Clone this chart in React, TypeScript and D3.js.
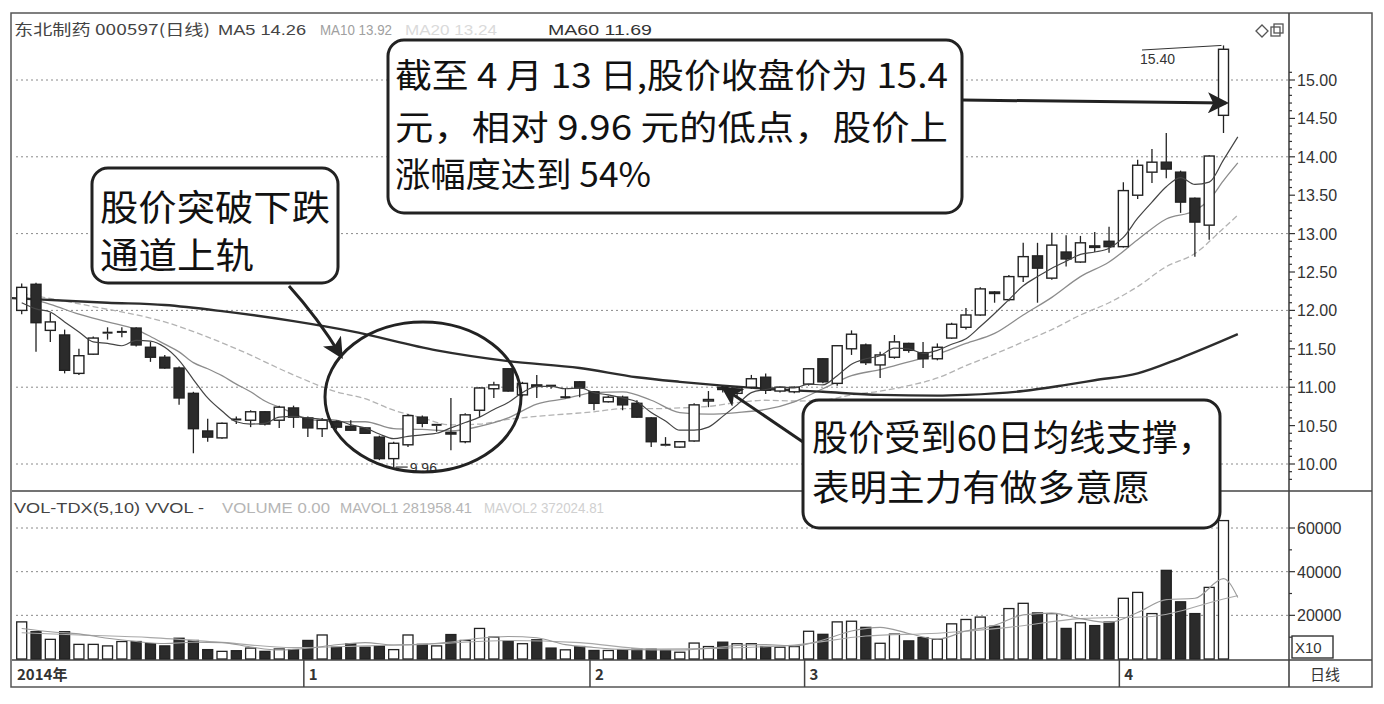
import React from "react";
import * as d3 from "d3";

const W = 1384;
const H = 704;

// ---- Candles (index 0..84), price in 元 ----
const opens = [12.00,12.34,11.74,11.68,11.18,11.43,11.70,11.71,11.77,11.52,11.39,11.25,10.92,10.43,10.34,10.58,10.57,10.68,10.57,10.73,10.60,10.46,10.55,10.49,10.47,10.35,10.07,10.25,10.61,10.50,10.41,10.29,10.70,10.98,11.24,10.90,11.03,11.02,10.86,11.07,10.94,10.81,10.87,10.79,10.60,10.25,10.22,10.30,10.82,11.00,10.92,11.00,11.13,10.95,10.94,11.04,11.37,11.05,11.50,11.55,11.29,11.39,11.57,11.45,11.37,11.64,11.78,11.94,12.24,12.14,12.44,12.71,12.42,12.76,12.63,12.84,12.90,12.83,13.50,13.80,13.93,13.80,13.46,13.11,14.54];
const highs = [12.35,12.36,11.97,11.75,11.50,11.66,11.78,11.78,11.78,11.59,11.42,11.27,10.94,10.59,10.54,10.62,10.70,10.69,10.76,10.76,10.62,10.60,10.57,10.57,10.48,10.37,10.29,10.65,10.63,10.52,10.86,10.66,11.00,11.07,11.25,11.07,11.16,11.03,10.99,11.08,10.95,10.89,10.89,10.83,10.61,10.35,10.30,10.79,10.95,11.02,11.01,11.16,11.18,11.01,11.01,11.25,11.38,11.55,11.74,11.57,11.46,11.68,11.58,11.59,11.57,11.84,12.03,12.30,12.25,12.46,12.88,12.88,13.01,12.98,12.97,13.02,13.09,13.67,13.96,14.10,14.31,13.82,13.47,14.02,15.45];
const lows = [11.95,11.46,11.59,11.18,11.16,11.42,11.62,11.65,11.53,11.33,11.24,10.77,10.14,10.29,10.33,10.52,10.48,10.50,10.47,10.47,10.35,10.35,10.45,10.43,10.39,10.05,9.96,10.22,10.48,10.42,10.18,10.27,10.61,10.86,10.94,10.88,10.86,10.98,10.86,10.87,10.70,10.80,10.70,10.60,10.22,10.23,10.21,10.29,10.74,10.93,10.87,10.98,10.91,10.93,10.92,11.02,11.05,11.02,11.42,11.29,11.12,11.37,11.45,11.25,11.35,11.63,11.75,11.93,12.10,12.12,12.37,12.10,12.40,12.57,12.62,12.76,12.75,12.82,13.45,13.66,13.72,13.27,12.70,12.92,14.31];
const closes = [12.30,11.84,11.85,11.22,11.41,11.64,11.71,11.72,11.55,11.39,11.25,10.86,10.46,10.35,10.53,10.57,10.68,10.52,10.74,10.61,10.47,10.57,10.48,10.44,10.40,10.07,10.27,10.63,10.53,10.51,10.39,10.64,10.99,11.03,10.95,11.05,11.01,11.01,10.87,10.99,10.79,10.87,10.77,10.61,10.29,10.24,10.29,10.77,10.84,10.97,10.99,11.11,10.96,11.00,11.00,11.24,11.07,11.54,11.69,11.32,11.42,11.59,11.48,11.37,11.52,11.82,11.94,12.28,12.22,12.44,12.70,12.55,12.85,12.67,12.88,12.82,12.83,13.56,13.89,13.93,13.84,13.41,13.15,14.01,15.40];

// ---- Volume (axis units, x10 手) ----
const volumes = [17000,12500,9000,12500,6700,6700,6000,8000,8000,7000,6000,9500,8500,4300,3500,3800,5000,3500,4600,4300,8500,11000,5400,7000,5400,6000,4300,11000,6700,6000,11200,8500,14000,10000,8200,7000,8800,5000,4200,5700,3900,3900,4200,4500,4500,3900,3100,7300,5700,7700,7000,7000,5700,5400,5700,12700,11300,17000,17300,14500,7200,11400,8300,9800,9000,16100,18100,19200,15000,23100,25500,21100,20800,14000,16600,15300,16900,27800,30500,20800,40600,26200,20800,32800,63400];

// ---- Moving averages: [index, value] ----
const ma5Pts: [number, number][] = [[0,12.10],[1,12.02],[2,11.98],[3,11.85],[4,11.72],[5,11.59],[6,11.57],[7,11.54],[8,11.61],[9,11.60],[10,11.52],[11,11.35],[12,11.10],[13,10.86],[14,10.69],[15,10.55],[16,10.52],[17,10.53],[18,10.61],[19,10.62],[20,10.60],[21,10.58],[22,10.57],[23,10.51],[24,10.47],[25,10.39],[26,10.33],[27,10.36],[28,10.38],[29,10.40],[30,10.47],[31,10.54],[32,10.61],[33,10.71],[34,10.80],[35,10.93],[36,11.01],[37,11.01],[38,10.98],[39,10.99],[40,10.93],[41,10.90],[42,10.86],[43,10.81],[44,10.67],[45,10.56],[46,10.44],[47,10.44],[48,10.48],[49,10.62],[50,10.77],[51,10.93],[52,10.97],[53,11.00],[54,10.99],[55,11.04],[56,11.03],[57,11.15],[58,11.30],[59,11.37],[60,11.41],[61,11.51],[62,11.50],[63,11.44],[64,11.48],[65,11.56],[66,11.63],[67,11.79],[68,11.96],[69,12.14],[70,12.32],[71,12.44],[72,12.55],[73,12.64],[74,12.73],[75,12.76],[76,12.81],[77,12.95],[78,13.20],[79,13.41],[80,13.61],[81,13.73],[82,13.64],[83,13.67],[84,13.96],[85,14.26]];
const ma10Pts: [number, number][] = [[0,12.18],[2,12.08],[4,11.95],[6,11.85],[8,11.75],[9,11.66],[10,11.56],[11,11.46],[12,11.32],[13,11.24],[14,11.15],[15,11.04],[16,10.94],[17,10.82],[18,10.74],[19,10.66],[20,10.58],[22,10.55],[24,10.55],[26,10.46],[28,10.45],[30,10.43],[32,10.49],[34,10.60],[36,10.78],[38,10.85],[40,10.93],[42,10.94],[44,10.83],[46,10.67],[48,10.65],[50,10.67],[52,10.71],[54,10.81],[56,10.98],[58,11.15],[60,11.23],[62,11.33],[64,11.43],[66,11.57],[68,11.70],[70,11.94],[72,12.17],[74,12.44],[76,12.63],[78,12.92],[80,13.19],[82,13.30],[83,13.44],[84,13.69],[85,13.92]];
const ma20Pts: [number, number][] = [[0,12.22],[5,12.05],[10,11.85],[15,11.50],[19,11.16],[22,10.94],[24,10.85],[26,10.70],[28,10.60],[30,10.51],[32,10.52],[34,10.58],[36,10.62],[38,10.65],[40,10.68],[42,10.72],[44,10.72],[46,10.73],[48,10.75],[50,10.80],[52,10.83],[54,10.82],[56,10.83],[58,10.90],[60,10.95],[62,11.02],[64,11.12],[66,11.28],[68,11.43],[70,11.59],[72,11.75],[74,11.94],[76,12.10],[78,12.31],[80,12.57],[82,12.74],[84,13.07],[85,13.24]];
const ma60Pts: [number, number][] = [[-0.7,12.16],[6,12.10],[10,12.07],[14,11.99],[19,11.86],[23,11.73],[29,11.48],[34,11.34],[39,11.25],[43,11.13],[46,11.07],[49,11.02],[52,10.98],[56,10.94],[60,10.90],[64,10.89],[66,10.90],[70,10.95],[73,11.03],[75,11.09],[78,11.18],[81,11.38],[85,11.69]];
const mavol5Pts: [number, number][] = [[0,14000],[2,12500],[4,11500],[6,9500],[8,8000],[10,7100],[12,7700],[14,7500],[16,5500],[18,4100],[20,4900],[22,6500],[24,7500],[26,6400],[28,6700],[30,7800],[32,9500],[34,10300],[36,9700],[38,6600],[40,5300],[42,4400],[44,4200],[46,4100],[48,4900],[50,6200],[52,6600],[54,6000],[56,8700],[58,12800],[60,14500],[62,11700],[64,9100],[66,12800],[68,15400],[70,20200],[72,21000],[74,18500],[76,16700],[78,21300],[80,27200],[82,27800],[84,36800],[85,28200]];
const mavol10Pts: [number, number][] = [[0,12000],[4,11000],[9,9800],[14,7600],[19,5200],[24,6000],[29,7000],[34,8500],[39,7500],[44,4600],[49,5000],[54,6400],[59,10500],[64,11800],[69,14500],[74,18500],[79,19500],[84,27500],[85,29000]];

const priceTicks = [10, 10.5, 11, 11.5, 12, 12.5, 13, 13.5, 14, 14.5, 15];
const priceGrid = [10, 11, 12, 13, 14, 15];
const volTicks = [20000, 40000, 60000];
const monthLabels = ["2014年", "1", "2", "3", "4"];
const monthStarts = [0, 20, 40, 55, 77];

const INK = "#222";
const FONT = "'Liberation Sans', Arial, sans-serif";
const CJK = "'Noto Sans CJK SC', sans-serif";

const xS = d3.scaleLinear().domain([0, 84]).range([21.7, 1223.5]);
const yP = d3.scaleLinear().domain([10, 15]).range([464, 80]);
const yV = d3.scaleLinear().domain([0, 60000]).range([659, 528]);

const lineP = d3.line<[number, number]>().x(d => xS(d[0])).y(d => yP(d[1])).curve(d3.curveMonotoneX);
const lineV = d3.line<[number, number]>().x(d => xS(d[0])).y(d => yV(d[1])).curve(d3.curveMonotoneX);

const PLOT_L = 12, PLOT_R = 1289, RIGHT = 1372, TOP = 13, SEP = 491, VBOT = 660, BOT = 687;
const BW = 10;

function Candles() {
  return (
    <g>
      {closes.map((c, i) => {
        const o = opens[i], h = highs[i], l = lows[i];
        const x = xS(i);
        const up = c >= o;
        const yTop = yP(Math.max(o, c));
        const yBot = yP(Math.min(o, c));
        const bh = Math.max(1.2, yBot - yTop);
        return (
          <g key={i}>
            <line x1={x} x2={x} y1={yP(h)} y2={yTop} stroke={INK} strokeWidth={1.3} />
            <line x1={x} x2={x} y1={yTop + bh} y2={yP(l)} stroke={INK} strokeWidth={1.3} />
            {bh <= 1.5 ? (
              <line x1={x - BW / 2} x2={x + BW / 2} y1={yTop} y2={yTop} stroke={INK} strokeWidth={2} />
            ) : (
              <rect x={x - BW / 2} y={yTop} width={BW} height={bh}
                fill={up ? "#fff" : "#2b2b2b"} stroke={INK} strokeWidth={1.4} />
            )}
          </g>
        );
      })}
    </g>
  );
}

function Volumes() {
  return (
    <g>
      {volumes.map((v, i) => {
        const x = xS(i);
        const up = closes[i] >= opens[i];
        const y = yV(v);
        return (
          <rect key={i} x={x - BW / 2} y={y} width={BW} height={yV(0) - y}
            fill={up ? "#fff" : "#2b2b2b"} stroke={INK} strokeWidth={1.3} />
        );
      })}
    </g>
  );
}

function Note({ x, y, w, size, children }: { x: number; y: number; w: number; size: number; children: string }) {
  return (
    <text x={x} y={y} fontFamily={CJK} fontSize={size} fill="#111" textLength={w} lengthAdjust="spacingAndGlyphs">
      {children}
    </text>
  );
}

function Lbl({ x, y, w, fill, family, children }: { x: number; y: number; w: number; fill: string; family?: string; children: string }) {
  return (
    <text x={x} y={y} fontFamily={family ?? FONT} fontSize={15} fill={fill} textLength={w} lengthAdjust="spacingAndGlyphs">
      {children}
    </text>
  );
}

export default function App() {
  const arrowId = "arrowHead";
  return (
    <svg width={W} height={H} viewBox={`0 0 ${W} ${H}`}
      style={{ position: "absolute", left: 0, top: 0, background: "#fff" }}>
      <defs>
        <marker id={arrowId} viewBox="0 0 12 12" refX="10" refY="6" markerWidth="7" markerHeight="7"
          orient="auto" markerUnits="strokeWidth">
          <path d="M0,0 L12,6 L0,12 L3,6 Z" fill={INK} />
        </marker>
        <clipPath id="priceClip"><rect x={PLOT_L} y={TOP} width={PLOT_R - PLOT_L} height={SEP - TOP} /></clipPath>
        <clipPath id="volClip"><rect x={PLOT_L} y={SEP} width={PLOT_R - PLOT_L} height={VBOT - SEP} /></clipPath>
      </defs>
      <rect x={0} y={0} width={W} height={H} fill="#fff" />

      {/* frame */}
      <rect x={PLOT_L - 1} y={TOP} width={RIGHT - PLOT_L + 1} height={BOT - TOP} fill="none" stroke="#555" strokeWidth={1.5} />
      <line x1={PLOT_R} x2={PLOT_R} y1={TOP} y2={BOT} stroke="#444" strokeWidth={1.6} />
      <line x1={PLOT_L} x2={RIGHT} y1={SEP} y2={SEP} stroke="#444" strokeWidth={1.6} />
      <line x1={PLOT_L} x2={RIGHT} y1={VBOT} y2={VBOT} stroke="#444" strokeWidth={1.6} />

      {/* grid */}
      {priceGrid.map(p => (
        <line key={p} x1={PLOT_L + 4} x2={PLOT_R} y1={yP(p)} y2={yP(p)} stroke="#8a8a8a" strokeWidth={1} strokeDasharray="2,3" />
      ))}
      {volTicks.map(v => (
        <line key={v} x1={PLOT_L + 4} x2={PLOT_R} y1={yV(v)} y2={yV(v)} stroke="#8a8a8a" strokeWidth={1} strokeDasharray="2,3" />
      ))}

      {/* price axis */}
      {d3.range(98, 152).map(k => {
        const p = k / 10;
        const major = Math.abs(p * 2 - Math.round(p * 2)) < 1e-6;
        return <line key={k} x1={PLOT_R} x2={PLOT_R + (major ? 6 : 3)} y1={yP(p)} y2={yP(p)} stroke="#333" strokeWidth={1.2} />;
      })}
      {priceTicks.map(p => (
        <text key={p} x={1297} y={yP(p) + 6} fontFamily={FONT} fontSize={16} fill="#333">{p.toFixed(2)}</text>
      ))}

      {/* volume axis */}
      {d3.range(1, 7).map(k => (
        <line key={k} x1={PLOT_R} x2={PLOT_R + (k % 2 === 0 ? 6 : 3)} y1={yV(k * 10000)} y2={yV(k * 10000)} stroke="#333" strokeWidth={1.2} />
      ))}
      {volTicks.map(v => (
        <text key={v} x={1297} y={yV(v) + 6} fontFamily={FONT} fontSize={16} fill="#333">{v}</text>
      ))}
      <rect x={1292} y={636} width={41} height={22} fill="#fff" stroke="#333" strokeWidth={1.4} />
      <text x={1295} y={653} fontFamily={FONT} fontSize={15} fill="#333">X10</text>

      {/* date strip */}
      {monthStarts.map((s, i) => {
        const x = i === 0 ? PLOT_L : xS(s) - 4;
        return (
          <g key={i}>
            {i > 0 && <line x1={x} x2={x} y1={VBOT} y2={BOT} stroke="#444" strokeWidth={1.5} />}
            <text x={x + 5} y={680} fontFamily={CJK} fontSize={15} fontWeight={700} fill="#333">{monthLabels[i]}</text>
          </g>
        );
      })}
      <text x={1310} y={680} fontFamily={CJK} fontSize={15} fill="#333">日线</text>

      {/* headers */}
      <Lbl x={14} y={35} w={196} fill="#444" family={CJK}>东北制药 000597(日线)</Lbl>
      <Lbl x={218} y={35} w={88} fill="#444">MA5 14.26</Lbl>
      <Lbl x={320} y={35} w={72} fill="#a0a0a0">MA10 13.92</Lbl>
      <Lbl x={405} y={35} w={92} fill="#dadada">MA20 13.24</Lbl>
      <Lbl x={548} y={35} w={104} fill="#333">MA60 11.69</Lbl>
      <Lbl x={14} y={513} w={190} fill="#444">VOL-TDX(5,10) VVOL -</Lbl>
      <Lbl x={222} y={513} w={108} fill="#b5b5b5">VOLUME 0.00</Lbl>
      <Lbl x={340} y={513} w={132} fill="#b5b5b5">MAVOL1 281958.41</Lbl>
      <Lbl x={484} y={513} w={120} fill="#d0d0d0">MAVOL2 372024.81</Lbl>

      {/* top-right icons */}
      <path d="M1256,31 L1262,25 L1268,31 L1262,37 Z" fill="none" stroke="#555" strokeWidth={1.3} />
      <rect x={1271} y={27} width={9} height={9} fill="none" stroke="#555" strokeWidth={1.3} />
      <rect x={1274} y={24} width={9} height={9} fill="none" stroke="#555" strokeWidth={1.3} />

      {/* price panel */}
      <g clipPath="url(#priceClip)">
        <path d={lineP(ma20Pts) ?? ""} fill="none" stroke="#b3b3b3" strokeWidth={1.3} strokeDasharray="6,3" />
        <path d={lineP(ma10Pts) ?? ""} fill="none" stroke="#8c8c8c" strokeWidth={1.3} />
        <path d={lineP(ma60Pts) ?? ""} fill="none" stroke="#2d2d2d" strokeWidth={2.4} />
        <Candles />
        <path d={lineP(ma5Pts) ?? ""} fill="none" stroke="#444" strokeWidth={1.2} />
      </g>

      {/* volume panel */}
      <g clipPath="url(#volClip)">
        <Volumes />
        <path d={lineV(mavol10Pts) ?? ""} fill="none" stroke="#a8a8a8" strokeWidth={1.1} />
        <path d={lineV(mavol5Pts) ?? ""} fill="none" stroke="#9a9a9a" strokeWidth={1.1} />
      </g>

      {/* low / high labels */}
      <line x1={xS(26) + 2} x2={xS(26) + 14} y1={yP(9.96)} y2={yP(9.96)} stroke="#333" strokeWidth={1.2} />
      <text x={xS(26) + 16} y={yP(9.96) + 6} fontFamily={FONT} fontSize={14} fill="#333">9.96</text>
      <text x={1140} y={64} fontFamily={FONT} fontSize={14} fill="#333">15.40</text>
      <line x1={1142} x2={xS(84) - 2} y1={50} y2={yP(15.45)} stroke="#333" strokeWidth={1} />

      {/* annotations */}
      <ellipse cx={423} cy={397} rx={98} ry={75} fill="none" stroke={INK} strokeWidth={3} />

      <rect x={92} y={168} width={246} height={115} rx={16} fill="#fff" stroke={INK} strokeWidth={3} />
      <Note x={100} y={221} w={230} size={36}>股价突破下跌</Note>
      <Note x={100} y={269} w={154} size={36}>通道上轨</Note>
      <path d="M289,286 Q318,318 341,356" fill="none" stroke={INK} strokeWidth={3} markerEnd={`url(#${arrowId})`} />

      <rect x={388} y={40} width={574} height={173} rx={16} fill="#fff" stroke={INK} strokeWidth={3} />
      <Note x={395} y={88} w={553} size={34}>截至 4 月 13 日,股价收盘价为 15.4</Note>
      <Note x={395} y={140} w={553} size={34}>元，相对 9.96 元的低点，股价上</Note>
      <Note x={395} y={187} w={256} size={34}>涨幅度达到 54%</Note>
      <path d={`M962,100 L${xS(84) + 2},${yP(14.7)}`} fill="none" stroke={INK} strokeWidth={3} markerEnd={`url(#${arrowId})`} />

      <rect x={803} y={400} width={417} height={128} rx={16} fill="#fff" stroke={INK} strokeWidth={3} />
      <Note x={812} y={451} w={402} size={36}>股价受到60日均线支撑，</Note>
      <Note x={812} y={501} w={338} size={36}>表明主力有做多意愿</Note>
      <path d={`M803,442 L${xS(49) + 1},${yP(11.0) + 1}`} fill="none" stroke={INK} strokeWidth={3} markerEnd={`url(#${arrowId})`} />
    </svg>
  );
}
